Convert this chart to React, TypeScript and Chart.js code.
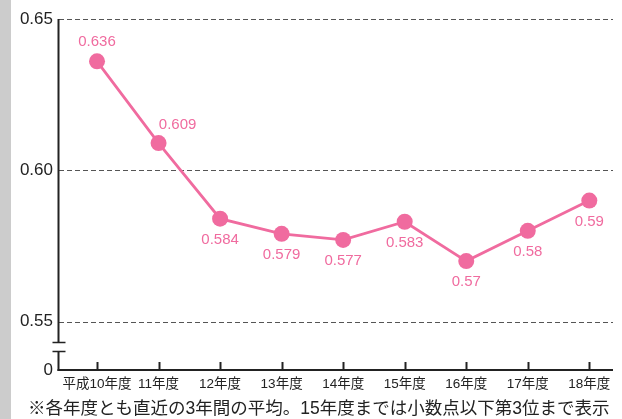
import React, { useEffect, useRef } from "react";
import { Chart, registerables } from "chart.js";

Chart.register(...registerables);

const categories = ["平成10年度", "11年度", "12年度", "13年度", "14年度", "15年度", "16年度", "17年度", "18年度"];
const values = [0.636, 0.609, 0.584, 0.579, 0.577, 0.583, 0.57, 0.58, 0.59];
const yTickValues = [0.55, 0.6, 0.65];
const yBreakMin = 0.534; // shown as "0" below the axis break
const footnote = "※各年度とも直近の3年間の平均。15年度までは小数点以下第3位まで表示";

const PINK = "#f06b9f";
const FONT = '"Liberation Sans", "Noto Sans CJK JP", sans-serif';

const decorPlugin = {
  id: "decor",
  beforeDraw(chart: any) {
    const ctx = chart.ctx;
    ctx.save();
    ctx.fillStyle = "#cccccc";
    ctx.fillRect(0, 0, 11, chart.height);
    ctx.restore();
  },
  beforeDatasetsDraw(chart: any) {
    const { ctx, chartArea, scales } = chart;
    const xs = scales.x;
    const ys = scales.y;
    ctx.save();
    // dashed grid lines
    ctx.strokeStyle = "#555";
    ctx.lineWidth = 1;
    ctx.setLineDash([5, 3]);
    yTickValues.forEach((v) => {
      const y = Math.round(ys.getPixelForValue(v)) + 0.5;
      ctx.beginPath();
      ctx.moveTo(chartArea.left + 1, y);
      ctx.lineTo(chartArea.right, y);
      ctx.stroke();
    });
    ctx.setLineDash([]);
    // y axis with break
    const ax = chartArea.left + 0.5;
    const b1 = 342.5;
    const b2 = 351.5;
    ctx.strokeStyle = "#222";
    ctx.lineWidth = 2;
    ctx.beginPath();
    ctx.moveTo(ax, chartArea.top);
    ctx.lineTo(ax, b1);
    ctx.moveTo(ax, b2);
    ctx.lineTo(ax, chartArea.bottom + 1);
    ctx.stroke();
    ctx.lineWidth = 1.5;
    ctx.beginPath();
    ctx.moveTo(ax - 6, b1);
    ctx.lineTo(ax + 7, b1);
    ctx.moveTo(ax - 6, b2);
    ctx.lineTo(ax + 7, b2);
    ctx.stroke();
    // x axis
    ctx.lineWidth = 2;
    const by = chartArea.bottom;
    ctx.beginPath();
    ctx.moveTo(chartArea.left - 0.5, by);
    ctx.lineTo(chartArea.right, by);
    ctx.stroke();
    // tick marks upward
    categories.forEach((_, i) => {
      const x = Math.round(xs.getPixelForValue(i)) + 0.5;
      ctx.beginPath();
      ctx.moveTo(x, by);
      ctx.lineTo(x, by - 8);
      ctx.stroke();
    });
    ctx.restore();
  },
  afterDatasetsDraw(chart: any) {
    const { ctx } = chart;
    const meta = chart.getDatasetMeta(0);
    ctx.save();
    ctx.fillStyle = PINK;
    ctx.font = `15px ${FONT}`;
    ctx.textAlign = "center";
    ctx.textBaseline = "middle";
    meta.data.forEach((pt: any, i: number) => {
      let dx = 0;
      let dy = 21;
      if (i === 0) dy = -20;
      if (i === 1) {
        dx = 19;
        dy = -18;
      }
      ctx.fillText(String(values[i]), pt.x + dx, pt.y + dy);
    });
    // footnote
    ctx.fillStyle = "#222";
    ctx.font = `17.5px ${FONT}`;
    ctx.textAlign = "left";
    ctx.fillText(footnote, 28, 409);
    ctx.restore();
  },
};

export default function App() {
  const ref = useRef<HTMLCanvasElement | null>(null);
  useEffect(() => {
    if (!ref.current) return;
    const chart = new Chart(ref.current, {
      type: "line",
      data: {
        datasets: [
          {
            data: values.map((v, i) => ({ x: i, y: v })),
            borderColor: PINK,
            backgroundColor: PINK,
            borderWidth: 2.8,
            pointRadius: 8,
            pointBackgroundColor: PINK,
            pointBorderWidth: 0,
            tension: 0,
          },
        ],
      },
      options: {
        animation: false,
        responsive: false,
        devicePixelRatio: 1,
        layout: { padding: { top: 19, right: 9, left: 0, bottom: 0 } },
        plugins: { legend: { display: false }, tooltip: { enabled: false } },
        scales: {
          x: {
            type: "linear",
            min: -0.634,
            max: 8.385,
            grid: { display: false, drawTicks: false },
            border: { display: false },
            afterBuildTicks: (s: any) => {
              s.ticks = categories.map((_, i) => ({ value: i }));
            },
            afterFit: (s: any) => {
              s.height = 49;
              s.paddingLeft = 0;
              s.paddingRight = 0;
            },
            ticks: {
              autoSkip: false,
              maxRotation: 0,
              padding: 6,
              color: "#222",
              font: { family: FONT, size: 13.5 },
              callback: (v: any) => categories[Math.round(Number(v))],
            },
          },
          y: {
            type: "linear",
            min: yBreakMin,
            max: 0.65,
            grid: { display: false, drawTicks: false },
            border: { display: false },
            afterBuildTicks: (s: any) => {
              s.ticks = [{ value: yBreakMin }, ...yTickValues.map((v) => ({ value: v }))];
            },
            afterFit: (s: any) => {
              s.width = 58;
              s.paddingTop = 0;
              s.paddingBottom = 0;
            },
            ticks: {
              padding: 5,
              color: "#222",
              font: { family: FONT, size: 17 },
              callback: (v: any) => (Math.abs(Number(v) - yBreakMin) < 1e-6 ? "0" : Number(v).toFixed(2)),
            },
          },
        },
      },
      plugins: [decorPlugin],
    } as any);
    return () => chart.destroy();
  }, []);
  return (
    <div style={{ position: "fixed", left: 0, top: 0, width: 622, height: 419, background: "#fff" }}>
      <canvas ref={ref} width={622} height={419} style={{ display: "block" }} />
    </div>
  );
}
